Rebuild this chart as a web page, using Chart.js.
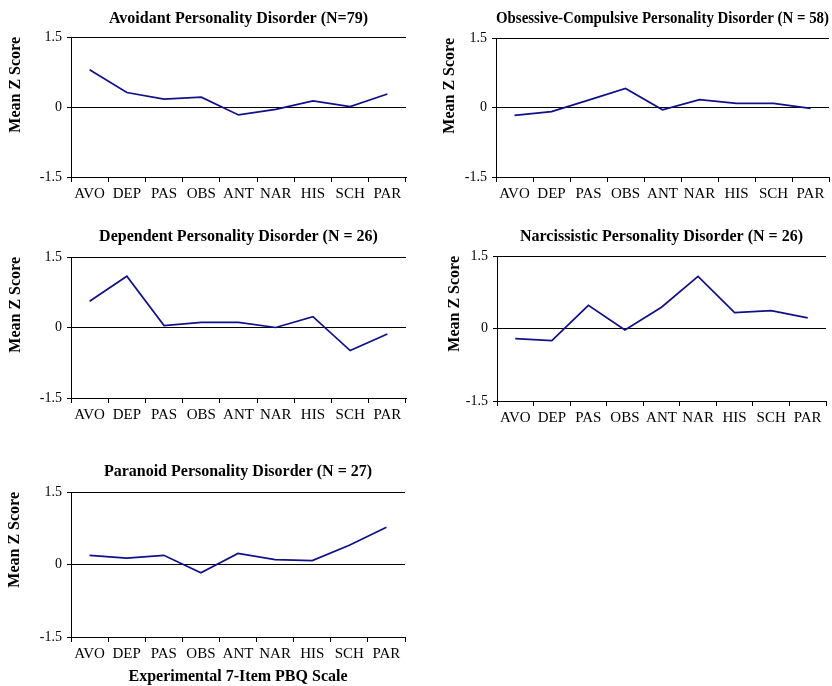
<!DOCTYPE html>
<html>
<head>
<meta charset="utf-8">
<script src="https://cdn.jsdelivr.net/npm/chart.js@4.4.1/dist/chart.umd.min.js"></script>
<style>
  body { margin: 0; background: #fff; width: 832px; height: 686px; position: relative; overflow: hidden; }
  canvas { position: absolute; }
</style>
</head>
<body>
<canvas id="c1" width="420" height="210" style="left:0;top:0"></canvas>
<canvas id="c2" width="412" height="210" style="left:420px;top:0"></canvas>
<canvas id="c3" width="420" height="210" style="left:0;top:220px"></canvas>
<canvas id="c4" width="412" height="210" style="left:420px;top:220px"></canvas>
<canvas id="c5" width="420" height="246" style="left:0;top:440px"></canvas>
<script>
// PBQ scales on the x axis
const categories = ['AVO', 'DEP', 'PAS', 'OBS', 'ANT', 'NAR', 'HIS', 'SCH', 'PAR'];
const yTicks = [-1.5, 0, 1.5];

// mean z scores
const avoidant     = [0.80, 0.31, 0.17, 0.21, -0.17, -0.05, 0.13, 0.01, 0.28];
const obsessive    = [-0.17, -0.09, 0.16, 0.41, -0.05, 0.17, 0.09, 0.09, -0.02];
const dependent    = [0.56, 1.09, 0.04, 0.11, 0.11, 0.00, 0.23, -0.49, -0.14];
const narcissistic = [-0.21, -0.25, 0.48, -0.03, 0.44, 1.08, 0.33, 0.37, 0.22];
const paranoid     = [0.19, 0.13, 0.19, -0.17, 0.23, 0.10, 0.08, 0.40, 0.77];

const titles = [
  'Avoidant Personality Disorder (N=79)',
  'Obsessive-Compulsive Personality Disorder (N = 58)',
  'Dependent Personality Disorder (N = 26)',
  'Narcissistic Personality Disorder (N = 26)',
  'Paranoid Personality Disorder (N = 27)'
];
const yLabel = 'Mean Z Score';
const xLabel = 'Experimental 7-Item PBQ Scale';

Chart.defaults.font.family = '"Liberation Serif", "Times New Roman", serif';
Chart.defaults.color = '#000';

// plot area of each panel, in canvas pixels
const panels = [
  { id: 'c1', data: avoidant,     l: 71, t: 37, r: 406, b: 177, ty: 19, yt: 16 },
  { id: 'c2', data: obsessive,    l: 76, t: 38, r: 409, b: 177, ty: 19, yt: 30 },
  { id: 'c3', data: dependent,    l: 71, t: 37, r: 406, b: 178, ty: 17, yt: 16 },
  { id: 'c4', data: narcissistic, l: 77, t: 36, r: 406, b: 181, ty: 17, yt: 35 },
  { id: 'c5', data: paranoid,     l: 71, t: 52, r: 405, b: 197, ty: 32, yt: 15, xTitle: true }
];

const bold = { size: 16, weight: 'bold', lineHeight: 1.2 };

function makeChart(p, i) {
  const cv = document.getElementById(p.id);
  const H = cv.height, W = cv.width;
  new Chart(cv, {
    type: 'line',
    data: {
      labels: categories,
      datasets: [{
        data: p.data,
        borderColor: '#10108a',
        borderWidth: 1.7,
        pointRadius: 0,
        tension: 0,
        fill: false
      }]
    },
    options: {
      responsive: false,
      animation: false,
      devicePixelRatio: 1,
      layout: { padding: { left: 0, top: 0, bottom: 0, right: W - p.r } },
      plugins: {
        legend: { display: false },
        tooltip: { enabled: false },
        title: {
          display: true,
          text: titles[i],
          fullSize: false,
          font: bold,
          color: '#000',
          padding: { top: p.ty - 9.6, bottom: p.t - p.ty - 9.6 }
        }
      },
      scales: {
        x: {
          offset: true,
          grid: { offset: true, drawOnChartArea: false, drawTicks: true, tickLength: 5, color: '#000' },
          border: { display: true, color: '#000', width: 1 },
          ticks: { font: { size: 15 }, padding: 3, maxRotation: 0, autoSkip: false },
          title: { display: !!p.xTitle, text: xLabel, font: bold, padding: 0 },
          afterFit: (s) => { s.height = H - p.b; }
        },
        y: {
          min: -1.5,
          max: 1.5,
          afterBuildTicks: (s) => { s.ticks = yTicks.map(v => ({ value: v })); },
          grid: { color: '#000', lineWidth: 1, tickLength: 4 },
          border: { display: true, color: '#000', width: 1 },
          ticks: { font: { size: 14 }, padding: 5, callback: (v) => String(v) },
          title: { display: true, text: yLabel, align: 'end', font: bold, padding: { top: p.yt - 9.6, bottom: 0 } },
          afterFit: (s) => { s.width = p.l; }
        }
      }
    }
  });
}

panels.forEach(makeChart);
</script>
</body>
</html>
